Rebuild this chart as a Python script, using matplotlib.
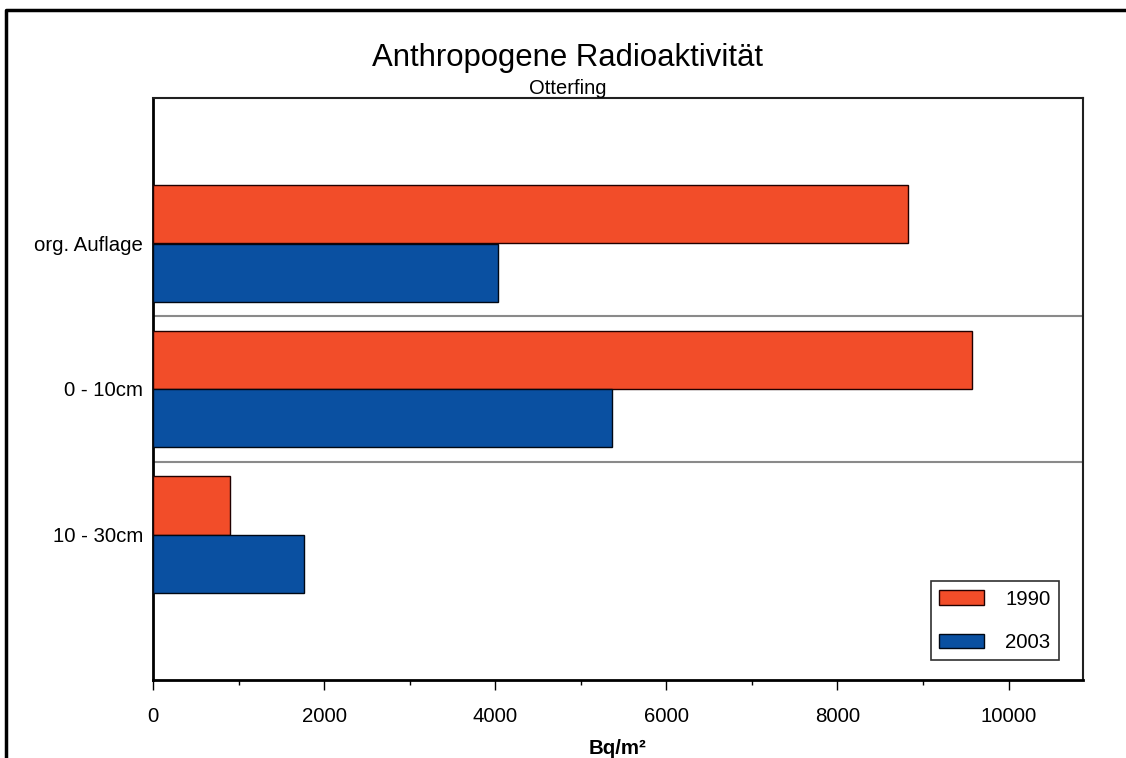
import matplotlib.pyplot as plt
import numpy
from matplotlib.lines import Line2D
from matplotlib.ticker import MultipleLocator

plt.rcParams['font.family'] = ['Liberation Sans', 'DejaVu Sans']

# data
layers = ['org. Auflage', '0 - 10cm', '10 - 30cm']
years = ['1990', '2003']
values_1990 = [8830, 9575, 905]
values_2003 = [4035, 5370, 1770]

red = '#F24D29'
blue = '#0A50A1'
fs = 14.7

fig = plt.figure(figsize=(11.26, 7.58), dpi=100)
ax = fig.add_axes([153 / 1126, 1 - 680 / 758, 930 / 1126, 582 / 758])

pos = numpy.arange(1, len(layers) + 1)
ax.barh(pos - 0.2, values_1990, height=0.4, color=red, edgecolor='#200000',
        linewidth=1.0, label=years[0], zorder=3)
ax.barh(pos + 0.2, values_2003, height=0.4, color=blue, edgecolor='#000814',
        linewidth=1.0, label=years[1], zorder=3)

# grey separators between the layers
for y in pos[:-1] + 0.5:
    ax.axhline(y, color='#8a8a8a', linewidth=1.5, zorder=2)

ax.set_ylim(len(layers) + 1, 0)
ax.set_xlim(0, 10870)
ax.set_yticks(pos)
ax.set_yticklabels(layers)
ax.tick_params(axis='y', length=0, pad=7, labelsize=fs)
ax.xaxis.set_major_locator(MultipleLocator(2000))
ax.xaxis.set_minor_locator(MultipleLocator(1000))
ax.tick_params(axis='x', which='major', length=7, width=1, pad=12.5, labelsize=fs)
ax.tick_params(axis='x', which='minor', length=3.6, width=1)

ax.spines['left'].set_linewidth(2)
ax.spines['bottom'].set_linewidth(2)
ax.spines['top'].set_linewidth(1.5)
ax.spines['right'].set_linewidth(1.5)
ax.spines['top'].set_color('#202020')
ax.spines['right'].set_color('#202020')

ax.set_xlabel('Bq/m²', fontsize=fs, fontweight='bold', labelpad=9)

leg = ax.legend(loc='lower right', bbox_to_anchor=(0.974, 0.034), borderaxespad=0,
                fontsize=fs, fancybox=False, framealpha=1, edgecolor='#303030',
                handlelength=2.2, handleheight=0.7, handletextpad=1.05,
                labelspacing=1.2, borderpad=0.4)
leg.get_frame().set_linewidth(1.2)

fig.text(0.504, 1 - 66 / 758, 'Anthropogene Radioaktivität', fontsize=22.4,
         ha='center', va='baseline')
fig.text(0.504, 1 - 94 / 758, 'Otterfing', fontsize=14.5, ha='center', va='baseline')

# outer frame, only left and top edges are inside the image
fig.add_artist(Line2D([6 / 1126, 6 / 1126, 1.0], [0.0, 1 - 10 / 758, 1 - 10 / 758],
                      transform=fig.transFigure, color='black', linewidth=2.5))

fig.savefig('out.png', dpi=100)
